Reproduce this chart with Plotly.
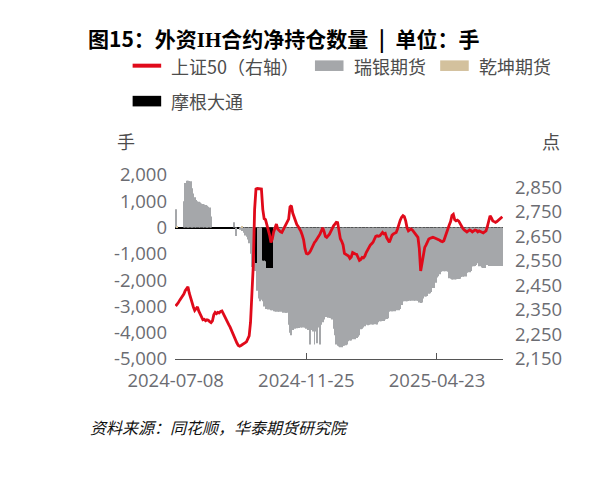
"""
外资IH合约净持仓 vs 上证50
"""

import plotly.graph_objects as go

###########################
# data (one value per trading day, 2024-07-08 ... )
###########################
days = list(range(241))

sse50 = [
    2366, 2372, 2380, 2390, 2398, 2405, 2415, 2428, 2436, 2444,
    2418, 2395, 2378, 2362, 2348, 2355, 2362, 2345, 2332, 2320,
    2310, 2312, 2306, 2310, 2308, 2302, 2298, 2305, 2330, 2340,
    2335, 2340, 2338, 2344, 2346, 2335, 2322, 2312, 2300, 2290,
    2280, 2266, 2255, 2240, 2232, 2215, 2205, 2202, 2205, 2208,
    2212, 2215, 2220, 2232, 2244, 2300, 2420, 2530, 2760, 2843,
    2845, 2845, 2843, 2843, 2760, 2722, 2718, 2700, 2682, 2655,
    2625, 2640, 2668, 2688, 2700, 2680, 2672, 2668, 2666, 2678,
    2690, 2700, 2710, 2720, 2770, 2775, 2745, 2728, 2710, 2698,
    2690, 2682, 2670, 2655, 2636, 2600, 2580, 2578, 2582, 2590,
    2602, 2618, 2625, 2632, 2640, 2648, 2659, 2672, 2685, 2670,
    2650, 2646, 2652, 2659, 2670, 2685, 2693, 2700, 2707, 2706,
    2680, 2640, 2630, 2615, 2580, 2576, 2574, 2570, 2560, 2566,
    2584, 2580, 2578, 2576, 2565, 2552, 2556, 2564, 2562, 2570,
    2584, 2595, 2606, 2614, 2620, 2626, 2638, 2650, 2652, 2650,
    2652, 2660, 2666, 2660, 2662, 2645, 2632, 2626, 2640, 2655,
    2660, 2664, 2666, 2680, 2705, 2716, 2728, 2734, 2730, 2713,
    2685, 2672, 2676, 2680, 2675, 2668, 2662, 2655, 2646, 2600,
    2509, 2540, 2584, 2605, 2615, 2628, 2639, 2642, 2644, 2646,
    2644, 2642, 2640, 2638, 2634, 2630, 2628, 2632, 2650, 2665,
    2680, 2696, 2710, 2735, 2740, 2718, 2713, 2716, 2712, 2700,
    2690, 2682, 2676, 2670, 2668, 2672, 2676, 2673, 2668, 2672,
    2676, 2674, 2668, 2672, 2670, 2668, 2664, 2668, 2672, 2690,
    2720, 2734, 2725, 2713, 2710, 2707, 2710, 2716, 2720, 2726, 2730,
]

ubs = [
    700, 0, 0, 0, 0, 0, 1000, 1700, 1780, 1780,
    1770, 1760, 1500, 1300, 1150, 1050, 1000, 980, 950, 920,
    900, 880, 860, 830, 790, 760, 420, 0, 0, 0,
    0, 0, 0, 0, 0, 0, 0, 0, 0, 0,
    0, 0, 0, 200, -320, 0, 0, -80, -60, -130,
    -200, -300, -350, -450, -600, -1000, -1500, -1650, -1650, -1350,
    -2400, -2700, -2800, -2750, -2800, -3000, -3100, -3100, -3120, -3120,
    -3150, -3150, -3180, -3180, -3200, -3200, -3200, -3200, -3200, -3240,
    -3240, -3240, -3240, -3700, -4000, -4100, -3900, -3850, -3850, -3830,
    -3820, -3820, -3800, -3800, -3800, -3800, -3850, -3900, -3850, -4450,
    -3900, -3950, -4450, -3950, -4400, -3800, -4450, -3700, -3600, -3500,
    -3400, -3400, -3430, -3440, -3450, -3500, -3850, -4100, -4450, -4500,
    -4520, -4550, -4550, -4500, -4500, -4480, -4450, -4320, -4300, -4300,
    -4250, -4200, -4250, -4200, -4150, -4100, -3870, -3850, -3800, -3750,
    -3700, -3720, -3700, -3690, -3690, -3690, -3680, -3680, -3690, -3600,
    -3560, -3560, -3550, -3550, -3500, -3480, -3450, -3200, -3180, -3180,
    -3180, -3180, -3150, -3150, -3150, -3100, -2950, -2800, -2800, -2800,
    -2800, -2790, -2780, -2780, -2780, -2780, -2780, -2780, -2780, -2850,
    -2870, -2850, -2700, -2620, -2620, -2600, -2520, -2500, -2450, -2300,
    -2300, -2100, -1900, -1850, -1780, -1680, -1660, -1660, -1660, -1660,
    -1680, -1930, -1950, -1980, -1980, -1980, -1970, -1960, -1960, -1950,
    -1880, -1870, -1860, -1860, -1720, -1700, -1700, -1650, -1480, -1470,
    -1460, -1420, -1360, -1470, -1470, -1520, -1540, -1540, -1400, -1420,
    -1460, -1460, -1460, -1460, -1460, -1460, -1460, -1460, -1460, -1460, -1460,
]

# only a few days carry a position for these two
qiankun_days = [1, 49]
qiankun = [50, 50]

jpm_days = [59, 64, 65, 66, 67, 68, 69, 70, 71]
jpm = [-1350, -1250, -1250, -1280, -1540, -1540, -1540, -1540, -1540]

x_tickvals = [0, 96, 192, 240]
x_ticktext = ["2024-07-08", "2024-11-25", "2025-04-23", ""]

left_ticks = [-5000, -4000, -3000, -2000, -1000, 0, 1000, 2000]
left_labels = ["-5,000", "-4,000", "-3,000", "-2,000", "-1,000", "0", "1,000", "2,000"]
right_ticks = [2150, 2250, 2350, 2450, 2550, 2650, 2750, 2850]
right_labels = ["2,150", "2,250", "2,350", "2,450", "2,550", "2,650", "2,750", "2,850"]

names = ["上证50（右轴）", "瑞银期货", "乾坤期货", "摩根大通"]
colors = ["#e00a1a", "#a5a7aa", "#d3c19d", "#000000"]

###########################
# layout, in pixels of the photographed page
# (the page body adds an 8px margin; keep the figure inside the window)
###########################
OFF = 8
W, H = 599 - OFF, 477 - 2 * OFF
L, R, T, B = 175.3, 502.7, 175.0, 359.3
CJK = "Noto Sans CJK SC"
NUM = "Open Sans"
TICK_COLOR = "#6b6c72"
TEXT_COLOR = "#4d4d4d"
BAR_W = 0.66  # in trading days; fixed so sparse traces don't get fat bars


def px(x):
    return (x - L) / (R - L)


def py(y):
    return (B - y) / (B - T)


fig = go.Figure()
fig.add_bar(x=days, y=ubs, name=names[1], width=BAR_W, marker_color=colors[1], marker_line_width=0,
            showlegend=False)
fig.add_bar(x=qiankun_days, y=qiankun, name=names[2], width=BAR_W, marker_color=colors[2],
            marker_line_width=0, showlegend=False)
fig.add_bar(x=jpm_days, y=jpm, name=names[3], width=BAR_W, marker_color=colors[3], marker_line_width=0,
            showlegend=False)
fig.add_scatter(x=days, y=sse50, name=names[0], yaxis="y2", mode="lines",
                line=dict(color=colors[0], width=2.8), showlegend=False)

# hand-drawn legend, wide swatches like the source chart
legend_rows = [(133, 65.5, 0), (315, 65.5, 1), (440, 65.5, 2), (133, 101, 3)]
shapes = []
annotations = []
for x0, yc, k in legend_rows:
    half = 2 if k == 0 else 5.3
    shapes.append(dict(type="rect", xref="paper", yref="paper", x0=px(x0), x1=px(x0 + 28.5),
                       y0=py(yc + half), y1=py(yc - half), fillcolor=colors[k], line_width=0))
    annotations.append(dict(text=names[k], xref="paper", yref="paper", x=px(x0 + 36.5), y=py(yc),
                            xanchor="left", yanchor="middle", showarrow=False,
                            font=dict(family=CJK, size=18, color=TEXT_COLOR)))

annotations += [
    dict(text="手", xref="paper", yref="paper", x=px(126), y=py(141), xanchor="center", yanchor="middle",
         showarrow=False, font=dict(family=CJK, size=18, color=TEXT_COLOR)),
    dict(text="点", xref="paper", yref="paper", x=px(551), y=py(141), xanchor="center", yanchor="middle",
         showarrow=False, font=dict(family=CJK, size=18, color=TEXT_COLOR)),
    dict(text="<i>资料来源：同花顺，华泰期货研究院</i>", xref="paper", yref="paper", x=px(88), y=py(427),
         xanchor="left", yanchor="middle", showarrow=False, font=dict(family=CJK, size=16, color="#111111")),
]

title_text = ("<b>图15：外资<span style=\"font-family:'Liberation Serif'\">IH</span>"
              "合约净持仓数量\u2002|\u2002单位：手</b>")

fig.update_layout(
    width=W, height=H,
    margin=dict(l=L - OFF, r=W - (R - OFF), t=T - OFF, b=H - (B - OFF), pad=0),
    paper_bgcolor="white", plot_bgcolor="white",
    barmode="overlay",
    title=dict(text=title_text, xref="container", yref="container",
               x=(88 - OFF) / W, y=1 - (40 - OFF) / H, xanchor="left", yanchor="middle",
               font=dict(family=CJK, size=21, color="#000000")),
    shapes=shapes,
    annotations=annotations,
    xaxis=dict(range=[-0.5, 240.5], tickvals=x_tickvals, ticktext=x_ticktext, ticks="inside", ticklen=6,
               tickcolor="#555555", showline=True, linecolor="#555555", linewidth=1.3, showgrid=False,
               zeroline=False, tickfont=dict(family=NUM, size=18.5, color=TICK_COLOR), ticklabelstandoff=5),
    yaxis=dict(range=[-5000, 2000], tickvals=left_ticks, ticktext=left_labels, showgrid=False,
               zeroline=True, zerolinecolor="#000000", zerolinewidth=1.5, showline=False, ticks="",
               tickfont=dict(family=NUM, size=18.5, color=TICK_COLOR), ticklabelstandoff=7),
    yaxis2=dict(range=[2150, 2900], tickvals=right_ticks, ticktext=right_labels, overlaying="y", side="right",
                showgrid=False, zeroline=False, showline=False, ticks="",
                tickfont=dict(family=NUM, size=18.5, color=TICK_COLOR), ticklabelstandoff=11),
)

fig.write_html("out.html")
